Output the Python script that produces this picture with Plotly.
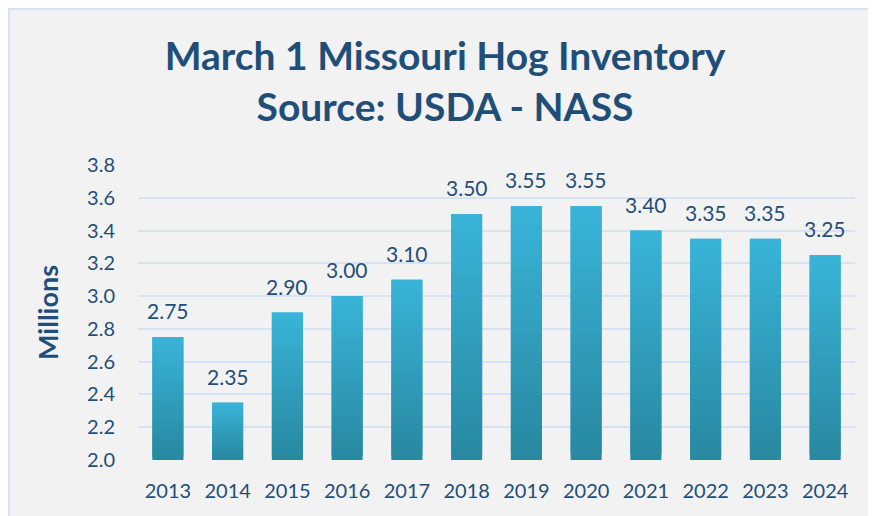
import plotly.graph_objects as go

years = ["2013", "2014", "2015", "2016", "2017", "2018", "2019", "2020", "2021", "2022", "2023", "2024"]
inventory = [2.75, 2.35, 2.90, 3.00, 3.10, 3.50, 3.55, 3.55, 3.40, 3.35, 3.35, 3.25]
y_ticks = [2.0, 2.2, 2.4, 2.6, 2.8, 3.0, 3.2, 3.4, 3.6, 3.8]
axis_min = 2.0

W, H = 876, 516
L, R, T, B = 130, 29, 157, 64
pw, ph = W - L - R, H - T - B

text_color = "#1F4E79"
top_rgb = (57, 180, 217)
bot_rgb = (40, 136, 160)

fig = go.Figure()

N = 40
for k in range(N):
    f = (k + 0.5) / N
    c = tuple(int(round(bot_rgb[i] + (top_rgb[i] - bot_rgb[i]) * f)) for i in range(3))
    seg = [(v - axis_min) / N for v in inventory]
    base = [axis_min + k * (v - axis_min) / N for v in inventory]
    fig.add_trace(go.Bar(
        x=years, y=[s * 2 if k < N - 1 else s for s in seg], base=base,
        marker=dict(color="rgb(%d,%d,%d)" % c, line=dict(width=0)),
        hoverinfo="skip", showlegend=False,
    ))

for i, v in enumerate(inventory):
    fig.add_annotation(x=i, y=v, text="%.2f" % v, showarrow=False,
                       yanchor="bottom", yshift=12,
                       font=dict(family="Lato", size=21, color=text_color))

def px_x(p):
    return (p - L) / pw

def px_y(p):
    return (H - B - p) / ph

fig.add_shape(type="rect", xref="paper", yref="paper",
              x0=px_x(1), x1=px_x(W + 10), y0=px_y(H + 10), y1=px_y(1),
              fillcolor="#F2F2F2", line=dict(color="#D6E3F4", width=2), layer="below")

fig.add_annotation(xref="paper", yref="paper", x=px_x(39), y=px_y(305),
                   xanchor="center", yanchor="middle",
                   text="<b>Millions</b>", textangle=-90, showarrow=False,
                   font=dict(family="Lato", size=27, color=text_color))

fig.update_layout(
    width=W, height=H,
    margin=dict(l=L, r=R, t=T, b=B),
    paper_bgcolor="#F2F2F2", plot_bgcolor="rgba(0,0,0,0)",
    barmode="overlay", bargap=0.48,
    title=dict(text="<b>March 1 Missouri Hog Inventory<br>Source: USDA - NASS</b>",
               x=(445 - 8) / W, xanchor="center", xref="container",
               y=1 - 62 / H, yanchor="middle", yref="container",
               font=dict(family="Lato", size=39, color=text_color)),
    xaxis=dict(type="category", range=[-0.5, len(years) - 0.5],
               showgrid=False, showline=False, zeroline=False,
               ticks="outside", ticklen=13, tickcolor="rgba(0,0,0,0)",
               tickfont=dict(family="Lato", size=20, color=text_color)),
    yaxis=dict(range=[2.0, 3.8], tickvals=y_ticks, ticktext=["%.1f" % t for t in y_ticks],
               showgrid=True, gridcolor="#D6E3F4", gridwidth=2, zeroline=False, showline=False,
               ticks="outside", ticklen=18, tickcolor="rgba(0,0,0,0)",
               tickfont=dict(family="Lato", size=20, color=text_color)),
)

fig.write_html("out.html")
